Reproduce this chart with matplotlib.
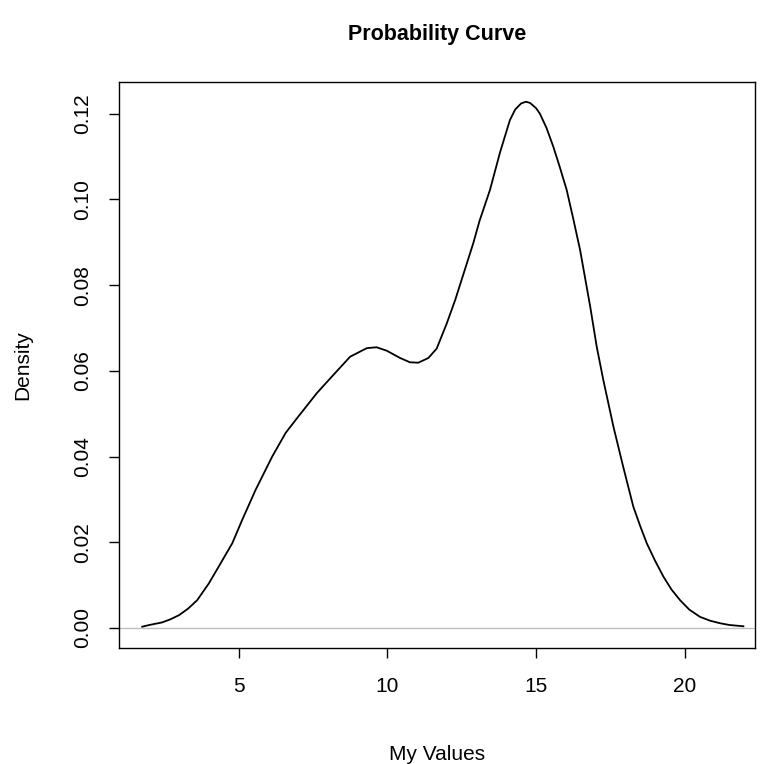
import matplotlib
matplotlib.use("Agg")
import matplotlib.pyplot as plt

plt.rcParams['font.family'] = ['Liberation Sans', 'DejaVu Sans']

# Kernel density estimate of the values (x, density)
x_vals = [1.76, 2.00, 2.43, 2.70, 3.00, 3.30, 3.61, 4.00, 4.33, 4.79, 5.12, 5.57,
          6.13, 6.58, 6.97, 7.63, 8.18, 8.75, 9.31, 9.64, 9.98, 10.43, 10.76,
          11.04, 11.38, 11.66, 12.00, 12.28, 12.89, 13.10, 13.45, 13.79, 14.12,
          14.30, 14.50, 14.66, 14.80, 15.00, 15.13, 15.35, 15.58, 15.80, 16.03,
          16.25, 16.48, 16.82, 17.04, 17.26, 17.60, 17.93, 18.27, 18.50, 18.72,
          19.00, 19.28, 19.55, 19.84, 20.15, 20.51, 20.85, 21.19, 21.50, 21.97]
density = [0.0003, 0.0007, 0.0013, 0.0020, 0.0030, 0.0045, 0.0065, 0.0104, 0.0143,
           0.0198, 0.0252, 0.0322, 0.0400, 0.0455, 0.0490, 0.0548, 0.0590, 0.0633,
           0.0653, 0.0655, 0.0647, 0.0630, 0.0620, 0.0619, 0.0630, 0.0652, 0.0711,
           0.0765, 0.0898, 0.0950, 0.1022, 0.1110, 0.1185, 0.1210, 0.1224, 0.1228,
           0.1225, 0.1213, 0.1200, 0.1167, 0.1123, 0.1075, 0.1022, 0.0955, 0.0882,
           0.0750, 0.0656, 0.0579, 0.0470, 0.0376, 0.0283, 0.0238, 0.0198, 0.0157,
           0.0120, 0.0090, 0.0065, 0.0043, 0.0026, 0.0017, 0.0011, 0.0007, 0.0004]

x_ticks = [5, 10, 15, 20]
y_ticks = [0.00, 0.02, 0.04, 0.06, 0.08, 0.10, 0.12]
y_tick_labels = ["0.00", "0.02", "0.04", "0.06", "0.08", "0.10", "0.12"]

fig = plt.figure(figsize=(7.67, 7.64), dpi=100)
ax = fig.add_axes([119 / 767, 1 - 648 / 764, (755 - 119) / 767, (648 - 82) / 764])

ax.axhline(0, color="#bebebe", lw=1.0, zorder=1)
ax.plot(x_vals, density, color="black", lw=1.3, zorder=2,
        solid_joinstyle="round")

ax.set_xlim(0.98, 22.36)
ax.set_ylim(-0.00467, 0.1274)

ax.set_xticks(x_ticks)
ax.set_xticklabels([str(t) for t in x_ticks])
ax.set_yticks(y_ticks)
ax.set_yticklabels(y_tick_labels, rotation=90, va="center")

ax.tick_params(axis="both", direction="out", length=7, width=1, colors="black",
               labelsize=15)
ax.tick_params(axis="x", pad=14)
ax.tick_params(axis="y", pad=12)

for sp in ax.spines.values():
    sp.set_linewidth(1.0)
    sp.set_color("black")

ax.set_title("Probability Curve", fontsize=15.5, fontweight="bold", pad=30)
ax.set_xlabel("My Values", fontsize=15, labelpad=35)
ax.set_ylabel("Density", fontsize=15, labelpad=30)

fig.savefig("out.png", dpi=100, facecolor="white")
